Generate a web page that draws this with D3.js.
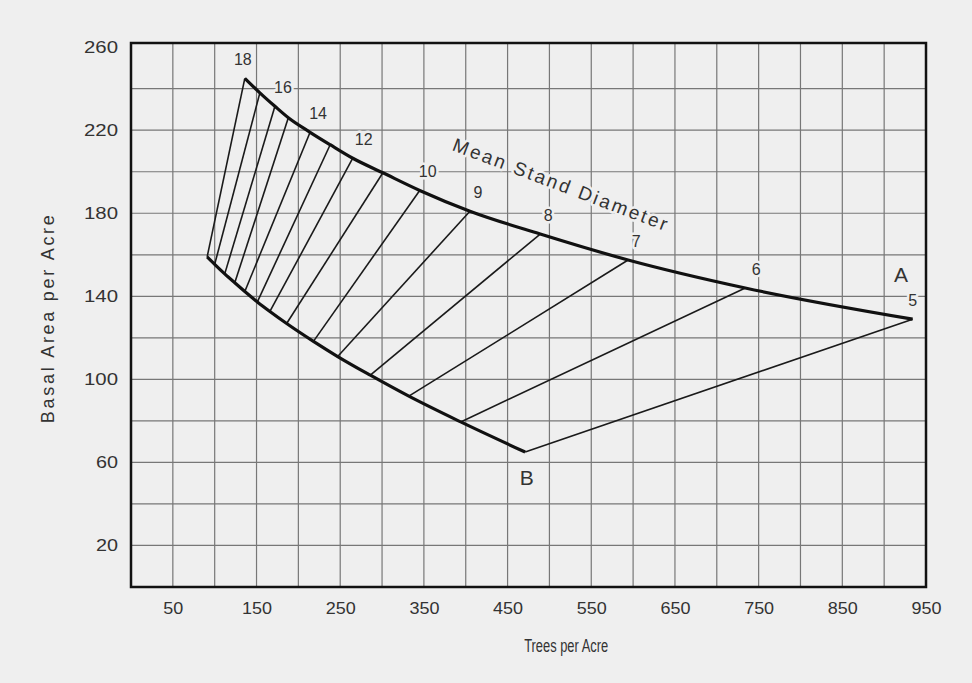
<!DOCTYPE html>
<html>
<head>
<meta charset="utf-8">
<script src="https://cdn.jsdelivr.net/npm/d3@7"></script>
<style>
  body { margin: 0; background: #efefef; }
  text { font-family: "Liberation Sans", Arial, sans-serif; fill: #333; }
</style>
</head>
<body>
<div id="chart"></div>
<script>
// diameters (inches) of the stocking lines
var diameters = [18, 17, 16, 15, 14, 13, 12, 11, 10, 9, 8, 7, 6, 5];
// A line (upper curve)
var upperTrees = [136, 154, 172, 188, 214, 238, 265, 301, 345, 405, 489, 594, 734, 934];
var upperBA    = [245, 238, 231.5, 226, 219, 213, 206.5, 199.5, 191, 181, 170, 157.5, 144, 129];
// B line (lower curve)
var lowerTrees = [91, 100, 112, 124, 136, 151, 166, 186, 218, 247, 286, 332, 394, 471];
var lowerBA    = [159, 155.4, 150.8, 146.5, 142.3, 137.3, 132.7, 126.9, 118.3, 111, 102, 91.9, 79.5, 65];
var labeledDiameters = [18, 16, 14, 12, 10, 9, 8, 7, 6, 5];

var xTicks = [50, 150, 250, 350, 450, 550, 650, 750, 850, 950];
var yTicks = [20, 60, 100, 140, 180, 220, 260];
var xGrid = d3.range(50, 901, 50);
var yGrid = d3.range(20, 241, 20);

var W = 972, H = 683;
var margin = {top: 43, right: 46, bottom: 96, left: 131};
var width = W - margin.left - margin.right,
    height = H - margin.top - margin.bottom;

var svg = d3.select("#chart").append("svg")
    .attr("width", W)
    .attr("height", H)
    .style("background", "#efefef");

var g = svg.append("g")
    .attr("transform", "translate(" + margin.left + "," + margin.top + ")");

var x = d3.scaleLinear().domain([0, 950]).range([0, width]);
var y = d3.scaleLinear().domain([0, 262]).range([height, 0]);

// grid
g.append("g").selectAll("line").data(xGrid).enter().append("line")
    .attr("x1", function (d) { return x(d); })
    .attr("x2", function (d) { return x(d); })
    .attr("y1", 0).attr("y2", height)
    .attr("stroke", "#777").attr("stroke-width", 1.2);
g.append("g").selectAll("line").data(yGrid).enter().append("line")
    .attr("y1", function (d) { return y(d); })
    .attr("y2", function (d) { return y(d); })
    .attr("x1", 0).attr("x2", width)
    .attr("stroke", "#777").attr("stroke-width", 1.2);

// axes (labels only, frame drawn separately)
var xAxis = g.append("g")
    .attr("transform", "translate(0," + height + ")")
    .call(d3.axisBottom(x).tickValues(xTicks).tickSize(0).tickPadding(15));
var yAxis = g.append("g")
    .call(d3.axisLeft(y).tickValues(yTicks).tickSize(0).tickPadding(13));
[xAxis, yAxis].forEach(function (a) {
    a.select(".domain").remove();
    a.selectAll("text")
        .style("font-family", "'Liberation Sans', Arial, sans-serif")
        .style("font-size", "17px")
        .attr("fill", "#333");
});
xAxis.selectAll("text")
    .attr("textLength", function (d) { return String(d).length * 10; })
    .attr("lengthAdjust", "spacingAndGlyphs");
yAxis.selectAll("text")
    .attr("textLength", function (d) { return String(d).length * 12 - 2; })
    .attr("lengthAdjust", "spacingAndGlyphs");

// axis titles
svg.append("text")
    .attr("x", margin.left + x(520))
    .attr("y", 652)
    .attr("text-anchor", "middle")
    .attr("textLength", 84)
    .attr("lengthAdjust", "spacingAndGlyphs")
    .style("font-size", "18px")
    .text("Trees per Acre");
svg.append("text")
    .attr("transform", "translate(54," + (margin.top + y(129)) + ") rotate(-90)")
    .attr("text-anchor", "middle")
    .attr("textLength", 208)
    .style("font-size", "18px")
    .text("Basal Area per Acre");

var upper = diameters.map(function (d, i) { return {d: d, n: upperTrees[i], ba: upperBA[i]}; });
var lower = diameters.map(function (d, i) { return {d: d, n: lowerTrees[i], ba: lowerBA[i]}; });

// labels with a halo that breaks the grid
function halo(sel) {
    sel.attr("stroke", "#efefef").attr("stroke-width", 5)
       .attr("paint-order", "stroke").attr("stroke-linejoin", "round");
}

var nudge = {18: -10, 5: -8, 16: 0, 12: 3, 6: 3};
g.append("g").selectAll("text")
    .data(upper.filter(function (p) { return labeledDiameters.indexOf(p.d) >= 0; }))
    .enter().append("text")
    .attr("x", function (p) { return x(p.n) + 8 + (nudge[p.d] || 0); })
    .attr("y", function (p) { return y(p.ba) - 13; })
    .attr("text-anchor", "middle")
    .style("font-size", "16px")
    .call(halo)
    .text(function (p) { return p.d; });

g.append("text")
    .attr("transform", "translate(" + x(513) + "," + y(194) + ") rotate(20.8)")
    .attr("text-anchor", "middle")
    .attr("dy", "0.35em")
    .attr("textLength", 228)
    .style("font-size", "19px")
    .call(halo)
    .text("Mean Stand Diameter");

g.append("text")
    .attr("x", x(920)).attr("y", y(147))
    .attr("text-anchor", "middle")
    .style("font-size", "21px")
    .call(halo)
    .text("A");
g.append("text")
    .attr("x", x(473)).attr("y", y(49))
    .attr("text-anchor", "middle")
    .style("font-size", "21px")
    .call(halo)
    .text("B");

// hatch lines joining the same diameter on both curves
g.append("g").selectAll("line").data(diameters).enter().append("line")
    .attr("x1", function (d, i) { return x(lowerTrees[i]); })
    .attr("y1", function (d, i) { return y(lowerBA[i]); })
    .attr("x2", function (d, i) { return x(upperTrees[i]); })
    .attr("y2", function (d, i) { return y(upperBA[i]); })
    .attr("stroke", "#1a1a1a").attr("stroke-width", 1.6);

var line = d3.line()
    .x(function (p) { return x(p.n); })
    .y(function (p) { return y(p.ba); })
    .curve(d3.curveMonotoneX);

g.append("path").datum(upper).attr("d", line)
    .attr("fill", "none").attr("stroke", "#111").attr("stroke-width", 3.2)
    .attr("stroke-linejoin", "round");
g.append("path").datum(lower).attr("d", line)
    .attr("fill", "none").attr("stroke", "#111").attr("stroke-width", 3.2)
    .attr("stroke-linejoin", "round");

// frame
g.append("rect")
    .attr("width", width).attr("height", height)
    .attr("fill", "none").attr("stroke", "#111").attr("stroke-width", 2.5);
</script>
</body>
</html>
